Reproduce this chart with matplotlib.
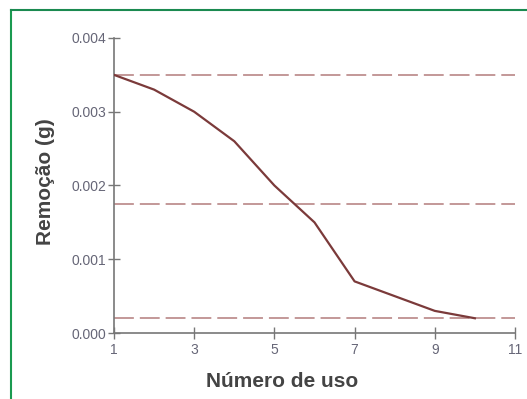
import matplotlib
matplotlib.use("Agg")
import matplotlib.pyplot as plt
from matplotlib.lines import Line2D

plt.rcParams["font.family"] = ["Liberation Sans", "DejaVu Sans"]

uso = [1, 2, 3, 4, 5, 6, 7, 8, 9, 10]
remocao = [0.0035, 0.0033, 0.0030, 0.0026, 0.0020, 0.0015, 0.0007, 0.0005, 0.0003, 0.0002]
ref_levels = [0.0035, 0.00175, 0.0002]
x_ticks = [1, 3, 5, 7, 9, 11]
y_ticks = [0.000, 0.001, 0.002, 0.003, 0.004]

fig = plt.figure(figsize=(5.27, 3.99), dpi=100)
ax = fig.add_axes([0.2163, 0.1654, 0.7609, 0.7394])

for level in ref_levels:
    ax.plot([1, 11], [level, level], color="#a86a6a", lw=1.3,
            dashes=(11, 3.3), alpha=0.75, zorder=2)
ax.plot(uso, remocao, color="#7b3a3a", lw=1.6, zorder=3)

ax.set_xlim(1, 11)
ax.set_ylim(0, 0.004)
ax.set_xticks(x_ticks)
ax.set_yticks(y_ticks)
ax.set_yticklabels(["%.3f" % v for v in y_ticks])

for side in ["top", "right"]:
    ax.spines[side].set_visible(False)
for side in ["left", "bottom"]:
    ax.spines[side].set_color("#777777")
    ax.spines[side].set_linewidth(1.2)

ax.tick_params(axis="both", direction="inout", length=9, width=1,
               color="#777777", labelcolor="#666677", labelsize=10)
ax.tick_params(axis="x", pad=3)
ax.tick_params(axis="y", pad=1)

ax.set_xlabel("Número de uso", fontsize=15, fontweight="bold", color="#444444")
ax.set_ylabel("Remoção (g)", fontsize=15, fontweight="bold", color="#444444")
ax.xaxis.set_label_coords(0.42, -0.166)
ax.yaxis.set_label_coords(-0.172, 0.512)
ax.xaxis.label.set_va("center")
ax.yaxis.label.set_va("center")

# green frame of the original panel
fig.add_artist(Line2D([0.0209, 0.0209], [0, 0.9737], transform=fig.transFigure,
                      color="#1a9a50", lw=1.5))
fig.add_artist(Line2D([0.0209, 1], [0.9737, 0.9737], transform=fig.transFigure,
                      color="#1a8a50", lw=1.5))

fig.savefig("out.png", dpi=100)
